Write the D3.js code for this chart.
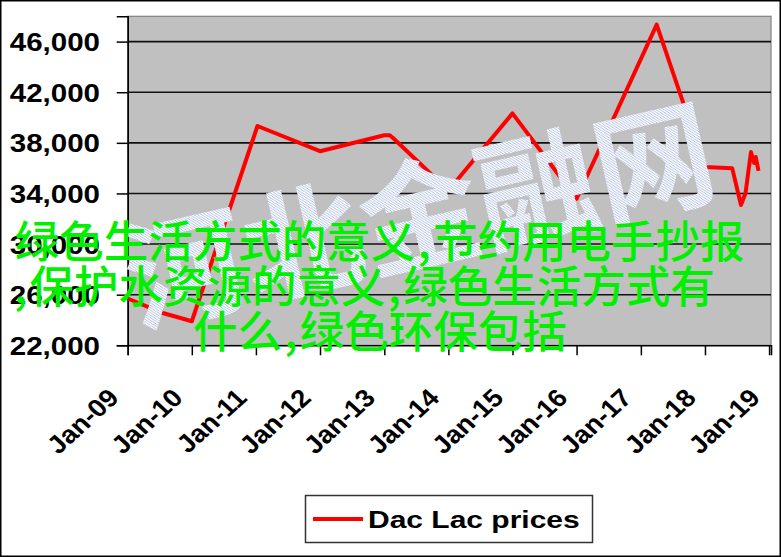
<!DOCTYPE html>
<html><head><meta charset="utf-8">
<script src="https://cdn.jsdelivr.net/npm/d3@7"></script>
<style>html,body{margin:0;padding:0;background:#fff;overflow:hidden}</style>
</head><body>
<svg id="chart" width="781" height="557"></svg>
<script>
// ---- data ----
const dates = ["2009-01-01","2009-07-20","2010-01-01","2011-01-10","2012-01-01","2013-01-01","2013-02-01","2013-02-20","2014-01-01","2015-01-01","2016-01-01","2017-04-01","2018-01-01","2018-06-05","2018-07-25","2018-08-20","2018-09-20","2018-10-08","2018-10-17","2018-11-02"];
const prices = [25700,24550,23900,39330,37340,38600,38600,38380,34240,40330,33580,47340,36100,36000,33090,34040,37280,36410,36880,35780];
const yTickValues = [22000,26000,30000,34000,38000,42000,46000];
const xTickLabels = ["Jan-09","Jan-10","Jan-11","Jan-12","Jan-13","Jan-14","Jan-15","Jan-16","Jan-17","Jan-18","Jan-19"];
const seriesName = "Dac Lac prices";
const overlayLines = ["绿色生活方式的意义,节约用电手抄报", ",保护水资源的意义,绿色生活方式有", "什么,绿色环保包括"];
const watermarkText = "河北金融网";

// ---- layout ----
const W = 781, H = 557;
const plot = {left:127.7, right:771, top:16.3, bottom:345.3};
const parse = d3.timeParse("%Y-%m-%d");
const svg = d3.select("#chart");
const latin = "'Liberation Sans', Arial, sans-serif";
const cjk = "'Noto Sans CJK SC', sans-serif";

svg.append("rect").attr("x",0).attr("y",0).attr("width",W).attr("height",H).attr("fill","#fff");

const defs = svg.append("defs");
const pat = defs.append("pattern").attr("id","hatch").attr("patternUnits","userSpaceOnUse")
  .attr("width",3).attr("height",3);
pat.append("rect").attr("width",3).attr("height",3).attr("fill","#fff");
pat.append("path").attr("d","M0,0L3,3M-1,2L1,4M2,-1L4,1").attr("stroke","#8fa4d6").attr("stroke-width",0.8);

const x = d3.scaleTime().domain([parse("2009-01-01"), parse("2019-01-12")]).range([plot.left, plot.right]);
const y = d3.scaleLinear().domain([22000,48000]).range([plot.bottom, plot.top]);

// plot area
svg.append("rect").attr("x",plot.left).attr("y",plot.top)
  .attr("width",plot.right-plot.left).attr("height",plot.bottom-plot.top)
  .attr("fill","#c0c0c0").attr("stroke","#808080").attr("stroke-width",1.2);

// gridlines
svg.append("g").selectAll("line").data(yTickValues.filter(v=>v>22000)).join("line")
  .attr("x1",plot.left).attr("x2",plot.right).attr("y1",d=>y(d)).attr("y2",d=>y(d))
  .attr("stroke","#111").attr("stroke-width",1.6);

// y axis
const yAxis = svg.append("g").attr("transform",`translate(${plot.left},0)`)
  .call(d3.axisLeft(y).tickValues(yTickValues).tickSize(11).tickPadding(0).tickFormat(d3.format(",")));
yAxis.select(".domain").attr("stroke","#000").attr("stroke-width",1.6);
yAxis.selectAll(".tick line").attr("stroke","#000").attr("stroke-width",1.5);
yAxis.selectAll(".tick text").remove();
yAxis.selectAll(".tick").append("text")
  .attr("transform","translate(-27.7,0) scale(1.18,1)")
  .attr("text-anchor","end").attr("dy","0.36em")
  .attr("font-family",latin).attr("font-weight","bold").attr("font-size",25).attr("fill","#000")
  .text(d=>d3.format(",")(d));

// x axis
const xTicks = d3.timeYear.range(parse("2009-01-01"), parse("2019-01-02"));
const xAxis = svg.append("g").attr("transform",`translate(0,${plot.bottom})`)
  .call(d3.axisBottom(x).tickValues(xTicks).tickSize(10).tickFormat((d,i)=>xTickLabels[i]));
xAxis.select(".domain").attr("stroke","#000").attr("stroke-width",1.6);
xAxis.selectAll(".tick line").attr("stroke","#000").attr("stroke-width",1.5);
xAxis.selectAll(".tick text").remove();
xAxis.selectAll(".tick").append("text")
  .attr("transform","translate(-8,54) scale(1.1,1) rotate(-45)")
  .attr("text-anchor","end")
  .attr("font-family",latin).attr("font-weight","bold").attr("font-size",25).attr("fill","#000")
  .text((d,i)=>xTickLabels[i]);

// line
const series = dates.map((d,i)=>({date:parse(d), value:prices[i]}));
svg.append("path").datum(series)
  .attr("fill","none").attr("stroke","#ff0000").attr("stroke-width",4).attr("stroke-linejoin","round")
  .attr("d", d3.line().x(d=>x(d.date)).y(d=>y(d.value)));

// legend
const lg = svg.append("g");
lg.append("rect").attr("x",305.5).attr("y",495.5).attr("width",287).attr("height",47)
  .attr("fill","#fff").attr("stroke","#333").attr("stroke-width",1.5);
lg.append("line").attr("x1",313).attr("x2",363).attr("y1",519).attr("y2",519)
  .attr("stroke","#ff0000").attr("stroke-width",4);
lg.append("text").attr("transform","translate(368,528) scale(1.25,1)")
  .attr("font-family",latin).attr("font-weight","bold").attr("font-size",24).attr("fill","#000")
  .text(seriesName);

// watermark
svg.append("text").attr("transform","translate(418,208) rotate(-12.8)")
  .attr("text-anchor","middle").attr("dominant-baseline","central")
  .attr("font-family",cjk).attr("font-weight","bold").attr("font-size",120)
  .attr("fill","url(#hatch)").text(watermarkText);

// overlay text
const overlayPos = [{x:14.7,y:238},{x:14,y:283},{x:193,y:328}];
overlayLines.forEach((line,i)=>{
  const t = svg.append("text").attr("x",overlayPos[i].x).attr("y",overlayPos[i].y)
    .attr("dominant-baseline","central")
    .attr("font-family",cjk).attr("font-weight",500).attr("font-size",44.5).attr("fill","#00f000");
  line.split(/(,)/).filter(s=>s.length).forEach((seg,j)=>{
    t.append("tspan").attr("dx",j===0?0:2.25).text(seg);
  });
});

// outer border
svg.append("rect").attr("x",0.75).attr("y",0.75).attr("width",W-1.5).attr("height",H-1.5)
  .attr("fill","none").attr("stroke","#000").attr("stroke-width",1.5);
</script>
</body></html>
